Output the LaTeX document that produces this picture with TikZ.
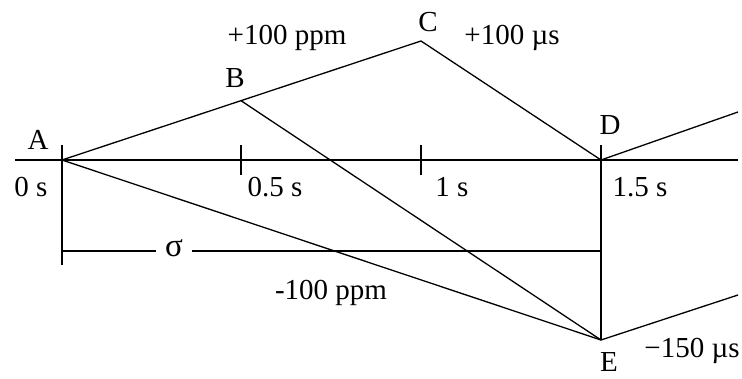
\documentclass[tikz,border=0pt]{standalone}
\usepackage{fontspec}
\setmainfont{Liberation Serif}
\begin{document}
\begin{tikzpicture}[x=1pt,y=-1pt,line width=1.3pt,
    lbl/.style={font=\fontsize{29}{32}\selectfont,inner sep=0pt,anchor=base}]
\useasboundingbox (0,0) rectangle (742,379);
\def\tick{+(0,-15) -- +(0,15)}

% points
\coordinate (A) at (62,160);
\coordinate (B) at (241,100.7);
\coordinate (C) at (421,41);
\coordinate (D) at (601,160);
\coordinate (E) at (601,340);
\coordinate (Dr) at (738,112);
\coordinate (Er) at (738,295);

% time axis
\coordinate (ax0) at (15,160);
\coordinate (ax1) at (738,160);
\draw (ax0) -- (ax1);
\draw (241,160) \tick;
\draw (421,160) \tick;
\draw (62,145) -- (62,265);
\draw (601,145) -- (E);

% sigma
\coordinate (s0) at (62,251);
\coordinate (s1) at (601,251);
\draw (s0) -- (s1);
\node[lbl,fill=white,inner xsep=9pt,font=\fontsize{33}{34}\selectfont] (sig) at (174,257) {σ};

% paths
\draw (A) -- (C) -- (D) -- (Dr);
\draw (A) -- (E) -- (Er);
\draw (B) -- (E);

% labels
\node[lbl] (lA) at (38,150) {A};
\node[lbl] (lB) at (235,88) {B};
\node[lbl] (lC) at (428,32) {C};
\node[lbl] (lD) at (610,135) {D};
\node[lbl] (lE) at (609,371) {E};
\node[lbl] (t0) at (31,197) {0 s};
\node[lbl] (t1) at (275,197) {0.5 s};
\node[lbl] (t2) at (452,197) {1 s};
\node[lbl] (t3) at (640,197) {1.5 s};
\node[lbl] (ppmup) at (287,45) {+100 ppm};
\node[lbl] (ppmdn) at (331,300) {-100 ppm};
\node[lbl] (usup) at (512,45) {+100 µs};
\node[lbl] (usdn) at (692,358) {−150 µs};
\end{tikzpicture}
\end{document}
